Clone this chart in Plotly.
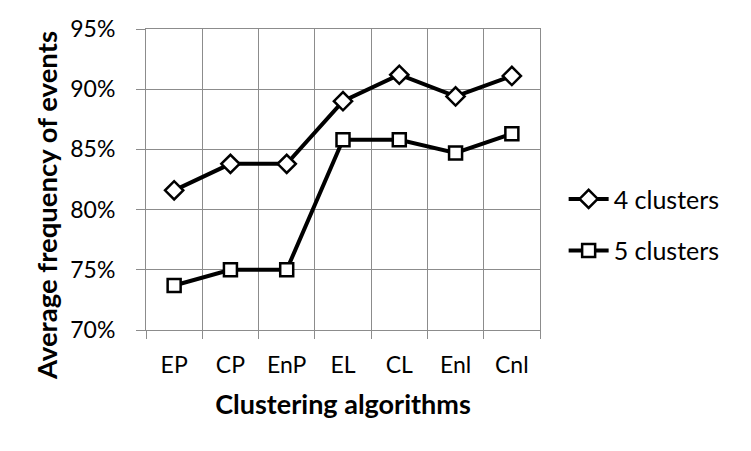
import plotly.graph_objects as go

categories = ["EP", "CP", "EnP", "EL", "CL", "Enl", "Cnl"]
clusters4 = [81.6, 83.8, 83.8, 89.0, 91.2, 89.4, 91.1]
clusters5 = [73.7, 75.0, 75.0, 85.8, 85.8, 84.7, 86.3]
y_ticks = [70, 75, 80, 85, 90, 95]
y_tick_labels = [f"{v}%" for v in y_ticks]

FONT = "Lato, Open Sans, sans-serif"
GRID = "#8c8c8c"

fig = go.Figure()
fig.add_trace(go.Scatter(
    x=categories, y=clusters4, name="4 clusters", mode="lines+markers",
    line=dict(color="black", width=4),
    marker=dict(symbol="diamond", size=14, color="white", line=dict(color="black", width=2.5)),
    legendgroup="a",
))
fig.add_trace(go.Scatter(
    x=categories, y=clusters5, name="5 clusters", mode="lines+markers",
    line=dict(color="black", width=4),
    marker=dict(symbol="square", size=13, color="white", line=dict(color="black", width=2.5)),
    legendgroup="b",
))

# page body has an 8px margin, so offsets are reduced by 8
fig.update_layout(
    width=743, height=443,
    margin=dict(l=138, r=211, t=21, b=121, autoexpand=False),
    paper_bgcolor="white", plot_bgcolor="white",
    font=dict(family=FONT, size=23, color="black"),
    showlegend=True,
    legend=dict(x=1.06, y=0.35, xanchor="left", yanchor="middle",
                font=dict(size=25), tracegroupgap=16, itemwidth=40),
    annotations=[dict(
        text="<b>Average frequency of events</b>", textangle=-90,
        xref="paper", yref="paper", x=-0.251, y=0.412,
        xanchor="center", yanchor="middle", showarrow=False,
        font=dict(size=27.5, family=FONT, color="black"),
    )],
)
fig.update_xaxes(
    type="category", range=[-0.5, 6.5], tickson="boundaries",
    showgrid=True, gridcolor=GRID, gridwidth=1,
    ticks="outside", ticklen=8, tickcolor=GRID,
    showline=True, linecolor=GRID, mirror=True,
    ticklabelstandoff=14, automargin=False,
    tickfont=dict(size=23),
    title=dict(text="<b>Clustering algorithms</b>", font=dict(size=27), standoff=18),
)
fig.update_yaxes(
    range=[70, 95], tickvals=y_ticks, ticktext=y_tick_labels,
    showgrid=True, gridcolor=GRID, gridwidth=1,
    ticks="outside", ticklen=9, tickcolor=GRID,
    showline=True, linecolor=GRID, mirror=True,
    ticklabelstandoff=16, zeroline=False, automargin=False,
    tickfont=dict(size=23),
)

fig.write_html("out.html")
